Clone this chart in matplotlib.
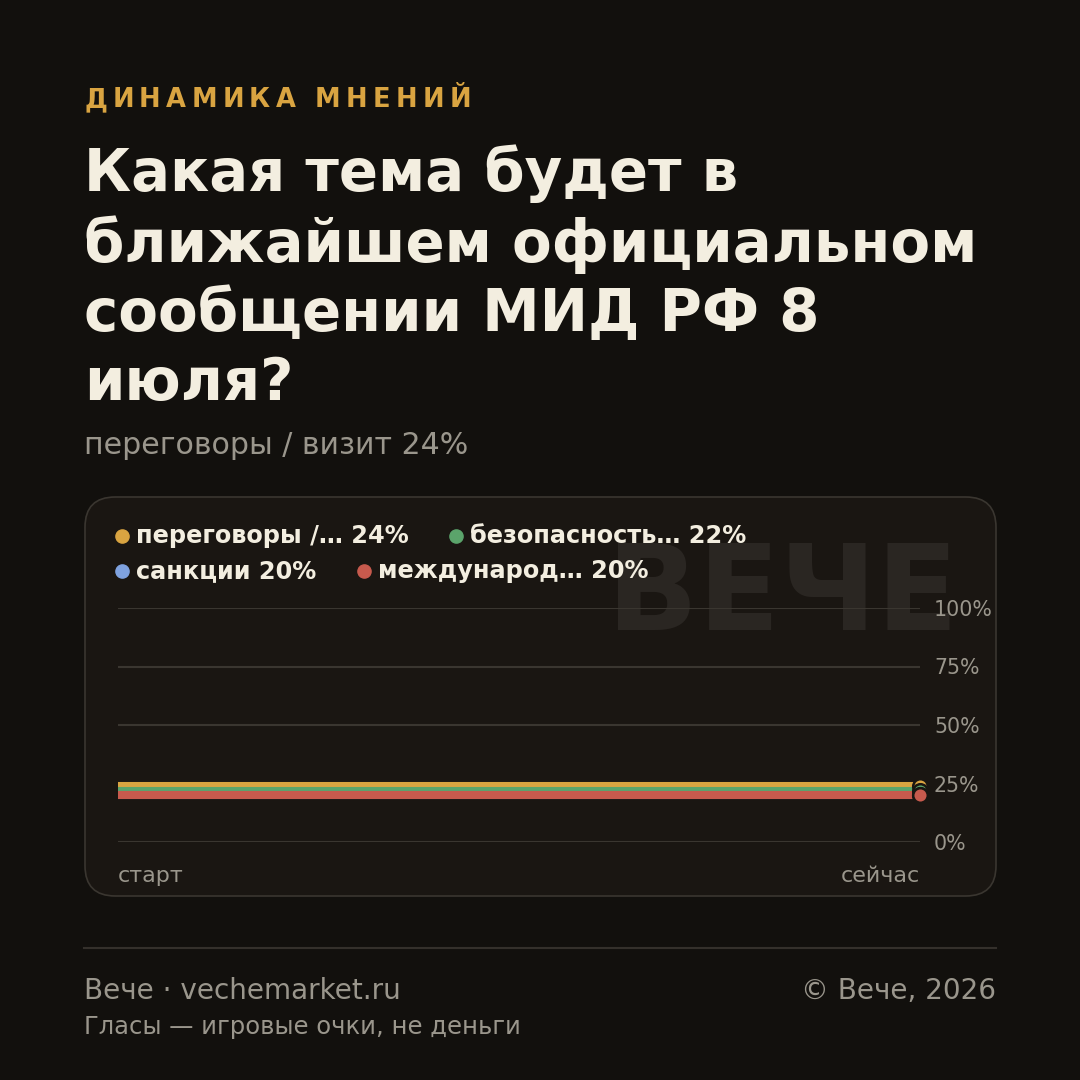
import os
import matplotlib
matplotlib.use("Agg")
import matplotlib.pyplot as plt
from matplotlib.patches import FancyBboxPatch
from matplotlib.lines import Line2D
from matplotlib.font_manager import FontProperties

# bundled DejaVu files, so the family is exactly the one in the reference
TTF = os.path.join(matplotlib.get_data_path(), "fonts", "ttf")
REG = os.path.join(TTF, "DejaVuSans.ttf")
BOLD = os.path.join(TTF, "DejaVuSans-Bold.ttf")

def font(size, bold=False):
    return FontProperties(fname=BOLD if bold else REG, size=size)

# ---- data ----
series_names = ["переговоры /… 24%", "безопасность… 22%", "санкции 20%", "международ… 20%"]
series_colors = ["#d9a441", "#5ba46b", "#7fa2df", "#c75a4d"]
series_values = [[24, 24], [22, 22], [20, 20], [20, 20]]
x_points = [0, 1]
y_ticks = [0, 25, 50, 75, 100]
y_tick_labels = ["0%", "25%", "50%", "75%", "100%"]

kicker = "ДИНАМИКА МНЕНИЙ"
title = "Какая тема будет в\nближайшем официальном\nсообщении МИД РФ 8\nиюля?"
subtitle = "переговоры / визит 24%"

BG = "#12100d"
CARD = "#1a1612"
CREAM = "#f3eee0"
GRAY = "#9a968c"
GOLD = "#d9a441"

W = H = 1080
fig = plt.figure(figsize=(10.8, 10.8), dpi=100, facecolor=BG)

def fx(px):
    return px / W

def fy(py):
    return 1 - py / H

# kicker with letter spacing
renderer = fig.canvas.get_renderer()
x = 84
for ch in kicker:
    t = fig.text(fx(x), fy(100), ch, color=GOLD, fontproperties=font(18.5, True),
                 va="center", ha="left")
    w = t.get_window_extent(renderer).width
    x += w + 5.3

fig.text(fx(84), fy(278), title, color=CREAM, fontproperties=font(41.6, True),
         va="center", ha="left", linespacing=1.27)
fig.text(fx(84), fy(446), subtitle, color=GRAY, fontproperties=font(21.6),
         va="center", ha="left")

# card
card = FancyBboxPatch((fx(85), fy(896)), fx(911), 399 / H,
                      boxstyle="round,pad=0,rounding_size=0.028",
                      transform=fig.transFigure, facecolor=CARD,
                      edgecolor="#3a3630", linewidth=1.2, zorder=0)
fig.patches.append(card)

# watermark
fig.text(fx(958), fy(597), "ВЕЧЕ", color="#2a2622", fontproperties=font(86, True),
         va="center", ha="right", zorder=1)

# legend
legend_pos = [(122, 536), (456, 536), (122, 571), (364, 571)]
for (lx, ly), name, col in zip(legend_pos, series_names, series_colors):
    fig.add_artist(Line2D([fx(lx)], [fy(ly)], marker="o", markersize=9.5,
                          color=col, transform=fig.transFigure, linestyle="", zorder=3))
    fig.text(fx(lx + 14), fy(ly), name, color=CREAM, fontproperties=font(17.3, True),
             va="center", ha="left", zorder=3)

# chart axes
ax = fig.add_axes([fx(118), fy(842), (920 - 118) / W, (842 - 608) / H])
ax.set_zorder(2)
ax.set_facecolor("none")
ax.set_xlim(0, 1)
ax.set_ylim(0, 100)
for s in ax.spines.values():
    s.set_visible(False)
ax.set_xticks([])
ax.yaxis.tick_right()
ax.set_yticks(y_ticks)
ax.set_yticklabels(y_tick_labels)
for lab in ax.get_yticklabels():
    lab.set_fontproperties(font(14.8))
ax.tick_params(axis="y", length=0, pad=10, labelcolor=GRAY)
ax.grid(axis="y", color="#3a3630", linewidth=1.5)
ax.set_axisbelow(True)

for vals, col in zip(series_values, series_colors):
    ax.plot(x_points, vals, color=col, linewidth=5.8, solid_capstyle="butt", zorder=3)
for vals, col in zip(series_values, series_colors):
    ax.plot(x_points[-1], vals[-1], "o", color=col, markersize=10.5,
            markeredgecolor=CARD, markeredgewidth=1.8, clip_on=False, zorder=4)

ax.text(0, -0.145, "старт", transform=ax.transAxes, color=GRAY, fontproperties=font(16),
        ha="left", va="center")
ax.text(1, -0.145, "сейчас", transform=ax.transAxes, color=GRAY, fontproperties=font(16),
        ha="right", va="center")

# footer
fig.add_artist(Line2D([fx(84), fx(996)], [fy(948), fy(948)], color="#34302b",
                      linewidth=1.5, transform=fig.transFigure))
fig.text(fx(84), fy(991), "Вече · vechemarket.ru", color=GRAY, fontproperties=font(20.1),
         va="center", ha="left")
fig.text(fx(996), fy(991), "© Вече, 2026", color=GRAY, fontproperties=font(20.1),
         va="center", ha="right")
fig.text(fx(84), fy(1027), "Гласы — игровые очки, не деньги", color=GRAY,
         fontproperties=font(17.5), va="center", ha="left")

fig.savefig("out.png", dpi=100, facecolor=BG)
